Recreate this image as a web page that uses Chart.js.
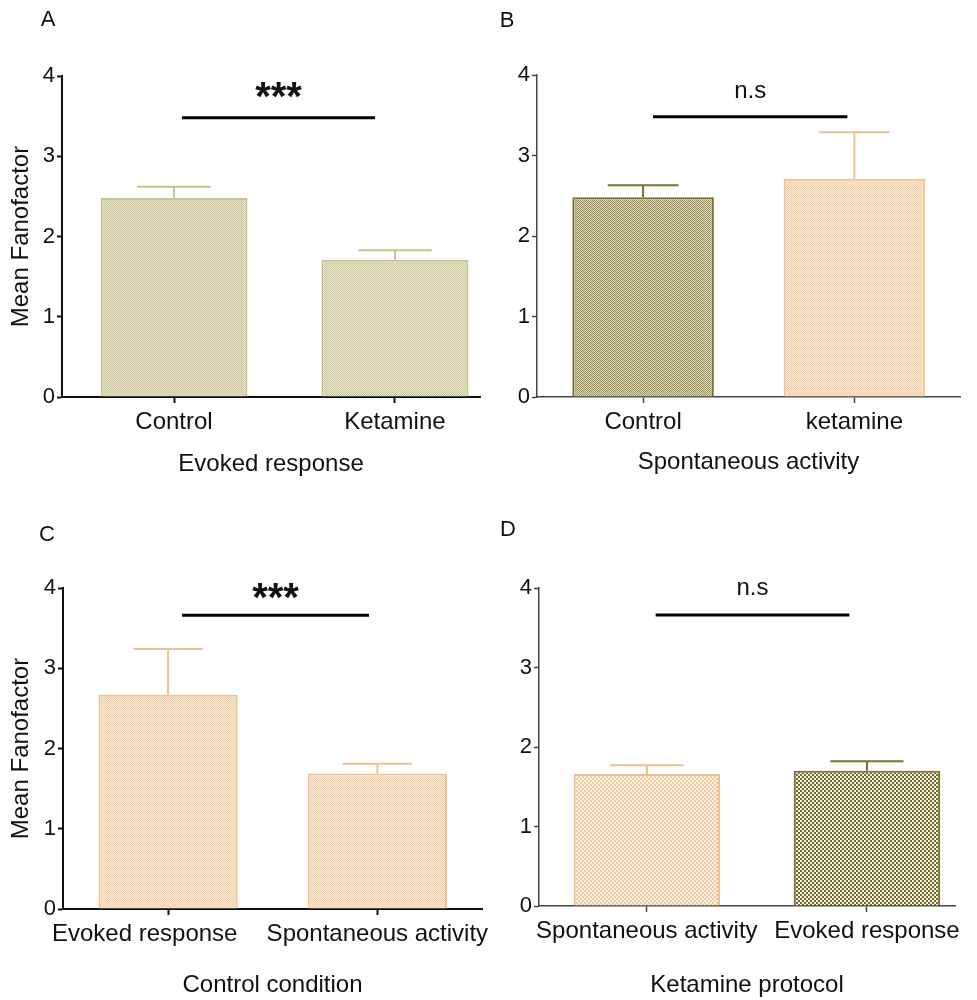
<!DOCTYPE html>
<html>
<head>
<meta charset="utf-8">
<script src="https://cdn.jsdelivr.net/npm/chart.js@4.4.1/dist/chart.umd.min.js"></script>
<style>
    body { margin: 0; background: #fff; }
    #figure { position: relative; width: 977px; height: 1000px; overflow: hidden; }
    #figure canvas { position: absolute; }
</style>
</head>
<body>
<div id="figure">
    <canvas id="panel_a" width="488" height="490" style="left:0;top:0"></canvas>
    <canvas id="panel_b" width="489" height="490" style="left:488px;top:0"></canvas>
    <canvas id="panel_c" width="500" height="510" style="left:0;top:490px"></canvas>
    <canvas id="panel_d" width="489" height="510" style="left:488px;top:490px"></canvas>
</div>
<script>
// Mean Fano factor (+ SEM) per group
const labels_a = ['Control', 'Ketamine']
const mean_a   = [2.48, 1.71]
const sem_a    = [0.14, 0.12]

const labels_b = ['Control', 'ketamine']
const mean_b   = [2.48, 2.71]
const sem_b    = [0.15, 0.58]

const labels_c = ['Evoked response', 'Spontaneous activity']
const mean_c   = [2.67, 1.69]
const sem_c    = [0.57, 0.12]

const labels_d = ['Spontaneous activity', 'Evoked response']
const mean_d   = [1.66, 1.70]
const sem_d    = [0.11, 0.12]

const y_ticks = [0, 1, 2, 3, 4]

const FONT = "'Liberation Sans', Arial, sans-serif"

// small repeating checker used as bar fill
function checker(bg, dot, cell) {
    const c = document.createElement('canvas')
    c.width = c.height = cell * 2
    const g = c.getContext('2d')
    g.fillStyle = bg
    g.fillRect(0, 0, cell * 2, cell * 2)
    g.fillStyle = dot
    g.fillRect(0, 0, cell, cell)
    g.fillRect(cell, cell, cell, cell)
    return g.createPattern(c, 'repeat')
}

const khaki      = checker('#e6e2c6', '#cdc8a2', 1)
const khakiLight = checker('#eeebd3', '#c9c49a', 1)
const olive      = checker('#dcd8b8', '#99935f', 1)
const peach      = checker('#fcebd8', '#efcda6', 1)
const peachBig   = checker('#fdf3e6', '#f2c89e', 2)
const oliveBig   = checker('#f1efd6', '#746d38', 2)

const KHAKI_LINE = '#c8c291'
const OLIVE_LINE = '#79722f'
const PEACH_LINE = '#f0c190'

// upward error bars, cap half as wide as the bar
const errorBars = {
    id: 'errorBars',
    afterDatasetsDraw(chart, args, opts) {
        const g = chart.ctx
        const ds = chart.data.datasets[0]
        const y = chart.scales.y
        g.save()
        g.lineWidth = 2
        chart.getDatasetMeta(0).data.forEach((bar, i) => {
            const top = y.getPixelForValue(ds.data[i].y + opts.sem[i])
            const half = bar.width / 4
            g.strokeStyle = ds.borderColor[i]
            g.beginPath()
            g.moveTo(bar.x, bar.y)
            g.lineTo(bar.x, top)
            g.moveTo(bar.x - half, top)
            g.lineTo(bar.x + half, top)
            g.stroke()
        })
        g.restore()
    }
}

// significance bracket + label
const sigBar = {
    id: 'sigBar',
    afterDraw(chart, args, o) {
        const g = chart.ctx
        const {x, y} = chart.scales
        const yy = y.getPixelForValue(o.level)
        const x0 = x.getPixelForValue(o.from)
        const x1 = x.getPixelForValue(o.to)
        g.save()
        g.strokeStyle = '#000'
        g.lineWidth = 3
        g.beginPath()
        g.moveTo(x0, yy)
        g.lineTo(x1, yy)
        g.stroke()
        g.fillStyle = '#111'
        g.font = o.font
        g.textAlign = 'center'
        g.textBaseline = 'alphabetic'
        g.fillText(o.text, (x0 + x1) / 2, yy - o.gap)
        g.restore()
    }
}

// panel letter
const panelTag = {
    id: 'panelTag',
    afterDraw(chart, args, o) {
        const g = chart.ctx
        g.save()
        g.fillStyle = '#111'
        g.font = '22px ' + FONT
        g.textAlign = 'center'
        g.textBaseline = 'middle'
        g.fillText(o.text, o.x, o.y)
        g.restore()
    }
}

function barPanel(id, labels, means, sems, look) {
    const ctx = document.getElementById(id).getContext('2d')
    const axisColor = look.axisColor
    const axisWidth = look.axisWidth

    return new Chart(ctx, {
        type: 'bar',
        data: {
            datasets: [{
                data: labels.map((l, i) => ({x: i, y: means[i]})),
                backgroundColor: look.fills,
                borderColor: look.lines,
                borderWidth: 2,
                borderSkipped: 'bottom',
                categoryPercentage: 1,
                barPercentage: look.barPct
            }]
        },
        options: {
            responsive: false,
            animation: false,
            devicePixelRatio: 1,
            layout: { padding: look.pad },
            plugins: {
                legend: { display: false },
                tooltip: { enabled: false },
                errorBars: { sem: sems },
                sigBar: look.sig,
                panelTag: look.tag
            },
            scales: {
                x: {
                    type: 'linear',
                    min: look.xMin,
                    max: look.xMax,
                    offset: false,
                    afterBuildTicks: s => { s.ticks = labels.map((l, i) => ({value: i})) },
                    afterFit: s => { s.height = look.xH; s.paddingLeft = 0; s.paddingRight = 0 },
                    grid: { offset: false, drawOnChartArea: false, drawTicks: true, tickLength: 6,
                            tickColor: axisColor, tickWidth: axisWidth },
                    border: { color: axisColor, width: axisWidth },
                    ticks: {
                        autoSkip: false, maxRotation: 0, padding: 5, color: '#111',
                        font: { family: FONT, size: 24 },
                        callback: v => labels[v] + ' '.repeat(look.nudge ? look.nudge[v] : 0)
                    },
                    title: { display: true, text: look.xTitle, color: '#111',
                             font: { family: FONT, size: 24 }, padding: { top: 0, bottom: look.xTitlePad } }
                },
                y: {
                    min: 0,
                    max: 4,
                    afterBuildTicks: s => { s.ticks = y_ticks.map(v => ({value: v})) },
                    afterFit: s => { s.width = look.yW; s.paddingTop = 0; s.paddingBottom = 0 },
                    grid: { drawOnChartArea: false, drawTicks: true, tickLength: 5,
                            tickColor: axisColor, tickWidth: axisWidth },
                    border: { color: axisColor, width: axisWidth },
                    ticks: { padding: 2, color: '#111', font: { family: FONT, size: 22 } },
                    title: { display: !!look.yTitle, text: look.yTitle, color: '#111',
                             font: { family: FONT, size: 24 }, padding: { top: 7 } }
                }
            }
        },
        plugins: [errorBars, sigBar, panelTag]
    })
}

barPanel('panel_a', labels_a, mean_a, sem_a, {
    fills: [khaki, khakiLight], lines: [KHAKI_LINE, KHAKI_LINE], barPct: 0.665,
    axisColor: '#111', axisWidth: 2,
    pad: { top: 76, right: 8, bottom: 0, left: 0 }, yW: 62, xH: 93,
    xMin: -0.507, xMax: 1.385,
    xTitle: 'Evoked response', xTitlePad: 11, yTitle: 'Mean Fanofactor',
    sig: { level: 3.48, from: 0.036, to: 0.91, text: '***', font: 'bold 40px ' + FONT, gap: 8 },
    tag: { text: 'A', x: 48, y: 20 }
})

barPanel('panel_b', labels_b, mean_b, sem_b, {
    fills: [olive, peach], lines: [OLIVE_LINE, PEACH_LINE], barPct: 0.67,
    axisColor: '#444', axisWidth: 1.5,
    pad: { top: 75, right: 17, bottom: 0, left: 0 }, yW: 49, xH: 93,
    xMin: -0.502, xMax: 1.50,
    xTitle: 'Spontaneous activity', xTitlePad: 13, yTitle: '',
    sig: { level: 3.48, from: 0.047, to: 0.967, text: 'n.s', font: '24px ' + FONT, gap: 19 },
    tag: { text: 'B', x: 19, y: 21 }
})

barPanel('panel_c', labels_c, mean_c, sem_c, {
    fills: [peach, peach], lines: [PEACH_LINE, PEACH_LINE], barPct: 0.665,
    axisColor: '#111', axisWidth: 2,
    pad: { top: 98, right: 18, bottom: 0, left: 0 }, yW: 63, xH: 91,
    xMin: -0.502, xMax: 1.50, nudge: [7, 0],
    xTitle: 'Control condition', xTitlePad: 0, yTitle: 'Mean Fanofactor',
    sig: { level: 3.66, from: 0.067, to: 0.96, text: '***', font: 'bold 40px ' + FONT, gap: 4 },
    tag: { text: 'C', x: 47, y: 45 }
})

barPanel('panel_d', labels_d, mean_d, sem_d, {
    fills: [peachBig, oliveBig], lines: ['#f0bd8c', OLIVE_LINE], barPct: 0.665,
    axisColor: '#444', axisWidth: 1.5,
    pad: { top: 98, right: 22, bottom: 0, left: 0 }, yW: 51, xH: 94,
    xMin: -0.49, xMax: 1.40,
    xTitle: 'Ketamine protocol', xTitlePad: 0, yTitle: '',
    sig: { level: 3.66, from: 0.04, to: 0.92, text: 'n.s', font: '24px ' + FONT, gap: 20 },
    tag: { text: 'D', x: 20, y: 40 }
})
</script>
</body>
</html>
